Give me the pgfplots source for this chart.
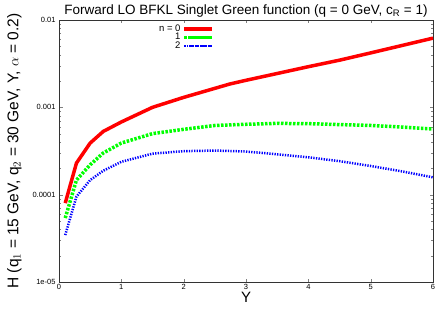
\documentclass[border=0pt]{standalone}
\usepackage{pgfplots}
\pgfplotsset{compat=1.18}
\usepackage{fontspec}
\setmainfont{Liberation Sans}
\begin{document}
\begin{tikzpicture}
\begin{axis}[
  name=ax,
  scale only axis,
  width=374pt, height=262pt,
  at={(0,0)}, anchor=south west,
  xmin=0, xmax=6,
  ymode=log, ymin=1e-5, ymax=1e-2,
  xtick={0,1,2,3,4,5,6},
  ytick={1e-5,1e-4,1e-3,1e-2},
  yticklabels={1e-05,0.0001,0.001,0.01},
  minor y tick num=8,
  tick label style={font=\fontsize{7.5}{8}\selectfont},
  xticklabel style={yshift=1pt},
  /pgf/number format/assume math mode=true,
  tick align=inside,
  major tick length=3.5pt, minor tick length=2pt,
  axis line style={line width=0.7pt, black!80},
  title={Forward LO BFKL Singlet Green function (q = 0 GeV, c$_{\mathrm{R}}$ = 1)},
  title style={font=\fontsize{13.5}{14}\selectfont, yshift=-7pt},
  xlabel={Y},
  xlabel style={font=\fontsize{15}{16}\selectfont, yshift=5pt},
  ylabel={H (q$_1$ = 15 GeV, q$_2$ = 30 GeV, Y, $\alpha$ = 0.2)},
  ylabel style={font=\fontsize{15.5}{16}\selectfont, yshift=4pt},
  legend style={at={(0.415,0.99)}, anchor=north east, draw=none, fill=none,
    font=\fontsize{9.5}{9.5}\selectfont, inner sep=0pt, row sep=-3.5pt,
    cells={anchor=east}},
  legend plot pos=right,
  legend image code/.code={\path (0pt,0pt) -- (28pt,0pt); \draw[#1] (6pt,0pt) -- (28pt,0pt);},
]
\addplot[red, line width=3.5pt] coordinates {
(0.1,8.0e-5) (0.28,2.3e-4) (0.5,3.9e-4) (0.71,5.3e-4) (1.0,6.8e-4)
(1.5,1.0e-3) (2.0,1.3e-3) (2.74,1.85e-3) (3.0,2.04e-3) (4.0,2.92e-3)
(4.51,3.48e-3) (5.0,4.2e-3) (6.0,6.2e-3)};
\addlegendentry{n = 0}
\addplot[green, line width=3.5pt, dash pattern=on 2.5pt off 1.5pt] coordinates {
(0.1,5.4e-5) (0.28,1.47e-4) (0.5,2.2e-4) (0.71,3.0e-4) (1.0,3.9e-4)
(1.5,5.0e-4) (2.0,5.6e-4) (2.5,6.2e-4) (3.0,6.4e-4) (3.5,6.55e-4)
(4.0,6.5e-4) (4.5,6.35e-4) (5.0,6.2e-4) (5.5,5.95e-4) (6.0,5.65e-4)};
\addlegendentry{1}
\addplot[blue, line width=2.5pt, dash pattern=on 1.3pt off 1.3pt] coordinates {
(0.1,3.45e-5) (0.28,9.5e-5) (0.5,1.47e-4) (0.71,1.88e-4) (1.0,2.38e-4)
(1.5,2.95e-4) (2.0,3.15e-4) (2.5,3.2e-4) (3.0,3.12e-4) (3.5,2.9e-4)
(4.0,2.68e-4) (4.5,2.42e-4) (5.0,2.13e-4) (5.5,1.85e-4) (6.0,1.58e-4)};
\addlegendentry{2}
\end{axis}
\pgfresetboundingbox
\useasboundingbox ([xshift=-59pt,yshift=-26pt]ax.south west) rectangle ([xshift=3pt,yshift=20pt]ax.north east);
\end{tikzpicture}
\end{document}
